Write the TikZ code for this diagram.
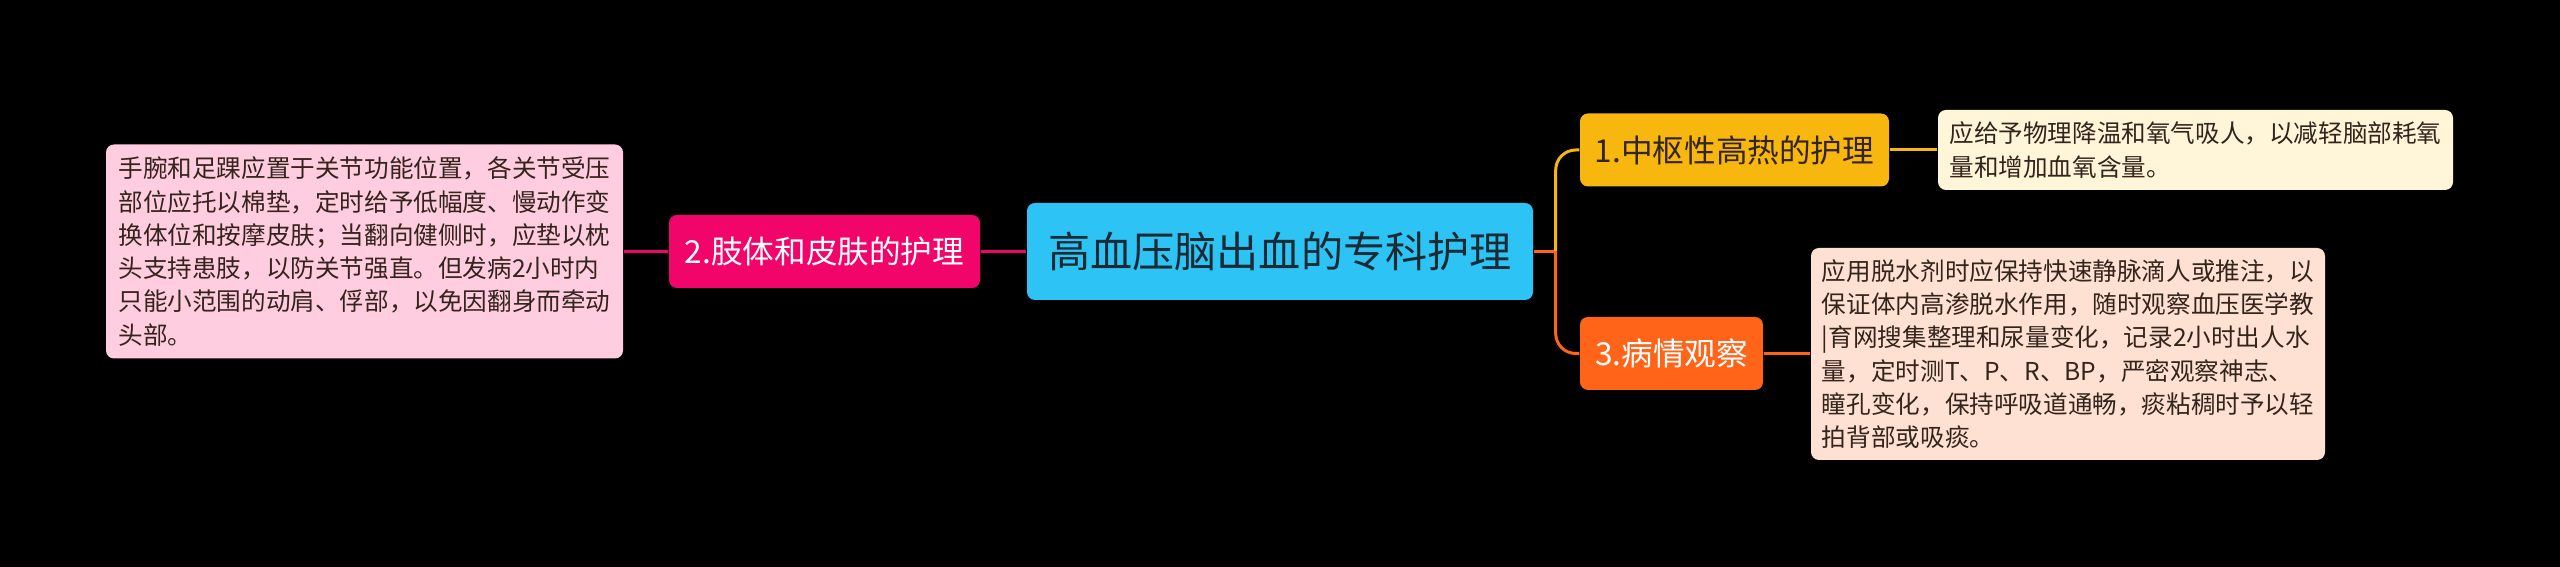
\documentclass[tikz,border=0pt]{standalone}
\usepackage{fontspec}
\setmainfont{Noto Sans CJK SC}

\definecolor{rootblue}{HTML}{2DC3F4}
\definecolor{roottext}{HTML}{1C2A33}
\definecolor{limbpink}{HTML}{F2056B}
\definecolor{limbleaf}{HTML}{FFCCE0}
\definecolor{feveramber}{HTML}{F8B70F}
\definecolor{feverleaf}{HTML}{FFF5D8}
\definecolor{watchorange}{HTML}{FF6418}
\definecolor{watchleaf}{HTML}{FFE1D3}
\definecolor{darktext}{HTML}{33241C}

\tikzset{
  box/.style={rounded corners=0.08cm, inner sep=0pt, align=center},
  topic/.style={box, font=\fontsize{9pt}{11pt}\selectfont, minimum height=0.73cm},
  leaf/.style={box, align=left, text=darktext, font=\fontsize{7pt}{9.47pt}\selectfont},
  link/.style={line width=0.85pt},
}

\begin{document}
\begin{tikzpicture}
            \fill[black] (0,0) rectangle (25.6,-5.67);
            \node[box, fill=rootblue, text=roottext, font=\fontsize{12pt}{14pt}\selectfont, minimum width=5.06cm, minimum height=0.97cm] (root) at (12.80,-2.515) {高血压脑出血的专科护理};
            \node[topic, fill=limbpink, text=white, minimum width=3.11cm] (limb) at (8.245,-2.515) {2.肢体和皮肤的护理};
            \node[leaf, fill=limbleaf, minimum width=5.17cm, minimum height=2.14cm] (limbnote) at (3.645,-2.515) {手腕和足踝应置于关节功能位置，各关节受压\\部位应托以棉垫，定时给予低幅度、慢动作变\\换体位和按摩皮肤；当翻向健侧时，应垫以枕\\头支持患肢，以防关节强直。但发病2小时内\\只能小范围的动肩、俘部，以免因翻身而牵动\\头部。};
            \node[topic, fill=feveramber, text=darktext, minimum width=3.09cm] (fever) at (17.345,-1.50) {1.中枢性高热的护理};
            \node[leaf, fill=feverleaf, minimum width=5.15cm, minimum height=0.80cm] (fevernote) at (21.955,-1.50) {应给予物理降温和氧气吸人，以减轻脑部耗氧\\量和增加血氧含量。};
            \node[topic, fill=watchorange, text=white, minimum width=1.83cm] (watch) at (16.715,-3.535) {3.病情观察};
            \node[leaf, fill=watchleaf, minimum width=5.14cm, minimum height=2.12cm] (watchnote) at (20.68,-3.54) {应用脱水剂时应保持快速静脉滴人或推注，以\\保证体内高渗脱水作用，随时观察血压医学教\\|育网搜集整理和尿量变化，记录2小时出人水\\量，定时测T、P、R、BP，严密观察神志、\\瞳孔变化，保持呼吸道通畅，痰粘稠时予以轻\\拍背部或吸痰。};
            \coordinate (fork) at ([xshift=0.22cm]root.east);
            \draw[link, watchorange] (root.east) -- (fork);
            \draw[link, feveramber, rounded corners=0.2cm] (fork) |- (fever.west);
            \draw[link, watchorange, rounded corners=0.2cm] (fork) |- (watch.west);
            \draw[link, limbpink] (root.west) -- (limb.east);
            \draw[link, limbpink] (limb.west) -- (limbnote.east);
            \draw[link, feveramber] (fever.east) -- (fevernote.west);
            \draw[link, watchorange] (watch.east) -- (watch.east -| watchnote.west);
        \end{tikzpicture}
\end{document}
